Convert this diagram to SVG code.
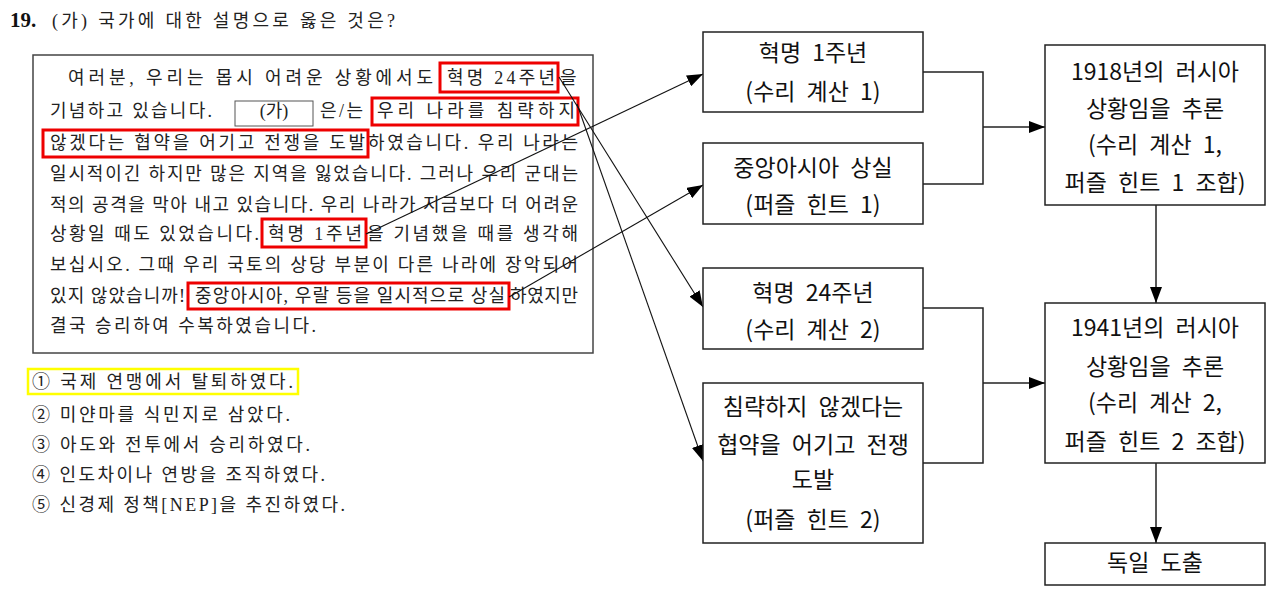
<svg xmlns="http://www.w3.org/2000/svg" width="1280" height="602" viewBox="0 0 1280 602">
<style>
.p{font-family:"Liberation Serif","Noto Sans CJK KR",serif;font-size:18px;fill:#222}
.q{font-family:"Liberation Serif","Noto Sans CJK KR",serif;font-size:18px;fill:#222}
.b{font-family:"Noto Sans CJK KR","Noto Sans",sans-serif;font-size:23px;word-spacing:6px;fill:#111;text-anchor:middle}
.box{fill:#fff;stroke:#222;stroke-width:1.5}
.red{fill:none;stroke:#ee0000;stroke-width:3}
.thin{fill:none;stroke:#111;stroke-width:1.1}
.con{fill:none;stroke:#222;stroke-width:1.5}
</style>
<defs>
<marker id="ah" markerUnits="userSpaceOnUse" markerWidth="16" markerHeight="12" refX="16" refY="6" orient="auto">
<path d="M0,0 L16,6 L0,12 z" fill="#000"/>
</marker>
</defs>
<rect width="1280" height="602" fill="#fff"/>
<g id="question">
<text x="10" y="27" font-family="Liberation Serif" font-weight="bold" font-size="21" fill="#111">19.</text>
<text class="q" x="52" y="27" textLength="343" lengthAdjust="spacing">(가) 국가에 대한 설명으로 옳은 것은?</text>
</g>
<g id="passage">
<rect x="33" y="55" width="560" height="298" fill="#fff" stroke="#444" stroke-width="1.5"/>
<rect x="235" y="101" width="78" height="25" fill="#fff" stroke="#555" stroke-width="1"/>
<text class="p" x="68" y="84" textLength="365" lengthAdjust="spacing">여러분, 우리는 몹시 어려운 상황에서도</text>
<text class="p" x="447" y="84" textLength="108" lengthAdjust="spacing">혁명 24주년</text>
<text class="p" x="560" y="84">을</text>
<text class="p" x="50" y="117" textLength="162" lengthAdjust="spacing">기념하고 있습니다.</text>
<text class="p" x="274" y="117" text-anchor="middle">(가)</text>
<text class="p" x="320" y="117" textLength="43" lengthAdjust="spacing">은/는</text>
<text class="p" x="377" y="117" textLength="198" lengthAdjust="spacing">우리 나라를 침략하지</text>
<text class="p" x="50" y="149" textLength="315" lengthAdjust="spacing">않겠다는 협약을 어기고 전쟁을 도발</text>
<text class="p" x="368" y="149" textLength="210" lengthAdjust="spacing">하였습니다. 우리 나라는</text>
<text class="p" x="50" y="180" textLength="528" lengthAdjust="spacing">일시적이긴 하지만 많은 지역을 잃었습니다. 그러나 우리 군대는</text>
<text class="p" x="50" y="211" textLength="528" lengthAdjust="spacing">적의 공격을 막아 내고 있습니다. 우리 나라가 지금보다 더 어려운</text>
<text class="p" x="50" y="240" textLength="209" lengthAdjust="spacing">상황일 때도 있었습니다.</text>
<text class="p" x="268" y="240" textLength="94" lengthAdjust="spacing">혁명 1주년</text>
<text class="p" x="367" y="240" textLength="211" lengthAdjust="spacing">을 기념했을 때를 생각해</text>
<text class="p" x="50" y="271" textLength="528" lengthAdjust="spacing">보십시오. 그때 우리 국토의 상당 부분이 다른 나라에 장악되어</text>
<text class="p" x="50" y="302" textLength="135" lengthAdjust="spacing">있지 않았습니까!</text>
<text class="p" x="195" y="302" textLength="310" lengthAdjust="spacing">중앙아시아, 우랄 등을 일시적으로 상실</text>
<text class="p" x="510" y="302" textLength="68" lengthAdjust="spacing">하였지만</text>
<text class="p" x="50" y="332" textLength="266" lengthAdjust="spacing">결국 승리하여 수복하였습니다.</text>
<rect class="red" x="440" y="63" width="118" height="29"/>
<rect class="red" x="372" y="98" width="206" height="27"/>
<rect class="red" x="43" y="130" width="325" height="27"/>
<rect class="red" x="262" y="219" width="104" height="28"/>
<rect class="red" x="188" y="283" width="321" height="26"/>
</g>
<g id="options">
<rect x="28" y="369" width="270" height="25" fill="none" stroke="#ffff00" stroke-width="2.5"/>
<text class="q" x="32" y="388" textLength="261" lengthAdjust="spacing">① 국제 연맹에서 탈퇴하였다.</text>
<text class="q" x="32" y="421" textLength="258" lengthAdjust="spacing">② 미얀마를 식민지로 삼았다.</text>
<text class="q" x="32" y="451" textLength="278" lengthAdjust="spacing">③ 아도와 전투에서 승리하였다.</text>
<text class="q" x="32" y="481" textLength="293" lengthAdjust="spacing">④ 인도차이나 연방을 조직하였다.</text>
<text class="q" x="32" y="511" textLength="313" lengthAdjust="spacing">⑤ 신경제 정책[NEP]을 추진하였다.</text>
</g>
<g id="connectors">
<line class="thin" x1="366" y1="234" x2="703" y2="74" marker-end="url(#ah)"/>
<line class="thin" x1="509" y1="297" x2="703" y2="185" marker-end="url(#ah)"/>
<line class="thin" x1="559" y1="77" x2="703" y2="307" marker-end="url(#ah)"/>
<line class="thin" x1="577" y1="104" x2="703" y2="461" marker-end="url(#ah)"/>
<path class="con" d="M923,72 H983 V184 H923"/>
<path class="con" d="M983,127 H1045" marker-end="url(#ah)"/>
<path class="con" d="M923,308 H983 V463 H923"/>
<path class="con" d="M983,383 H1045" marker-end="url(#ah)"/>
<path class="con" d="M1156,205 V303" marker-end="url(#ah)"/>
<path class="con" d="M1156,463 V543" marker-end="url(#ah)"/>
</g>
<g id="nodeA">
<rect class="box" x="703" y="32" width="220" height="80"/>
<text class="b" x="813" y="61">혁명 1주년</text>
<text class="b" x="813" y="100">(수리 계산 1)</text>
</g>
<g id="nodeB">
<rect class="box" x="703" y="143" width="220" height="81"/>
<text class="b" x="813" y="176">중앙아시아 상실</text>
<text class="b" x="813" y="213">(퍼즐 힌트 1)</text>
</g>
<g id="nodeC">
<rect class="box" x="703" y="268" width="220" height="81"/>
<text class="b" x="813" y="301">혁명 24주년</text>
<text class="b" x="813" y="338">(수리 계산 2)</text>
</g>
<g id="nodeD">
<rect class="box" x="703" y="383" width="220" height="160"/>
<text class="b" x="813" y="415">침략하지 않겠다는</text>
<text class="b" x="813" y="453">협약을 어기고 전쟁</text>
<text class="b" x="813" y="488">도발</text>
<text class="b" x="813" y="528">(퍼즐 힌트 2)</text>
</g>
<g id="nodeE">
<rect class="box" x="1045" y="45" width="220" height="160"/>
<text class="b" x="1155" y="80">1918년의 러시아</text>
<text class="b" x="1155" y="117">상황임을 추론</text>
<text class="b" x="1155" y="153">(수리 계산 1,</text>
<text class="b" x="1155" y="191">퍼즐 힌트 1 조합)</text>
</g>
<g id="nodeF">
<rect class="box" x="1045" y="303" width="220" height="160"/>
<text class="b" x="1155" y="336">1941년의 러시아</text>
<text class="b" x="1155" y="375">상황임을 추론</text>
<text class="b" x="1155" y="411">(수리 계산 2,</text>
<text class="b" x="1155" y="450">퍼즐 힌트 2 조합)</text>
</g>
<g id="nodeG">
<rect class="box" x="1045" y="543" width="220" height="42"/>
<text class="b" x="1155" y="571">독일 도출</text>
</g>
</svg>
